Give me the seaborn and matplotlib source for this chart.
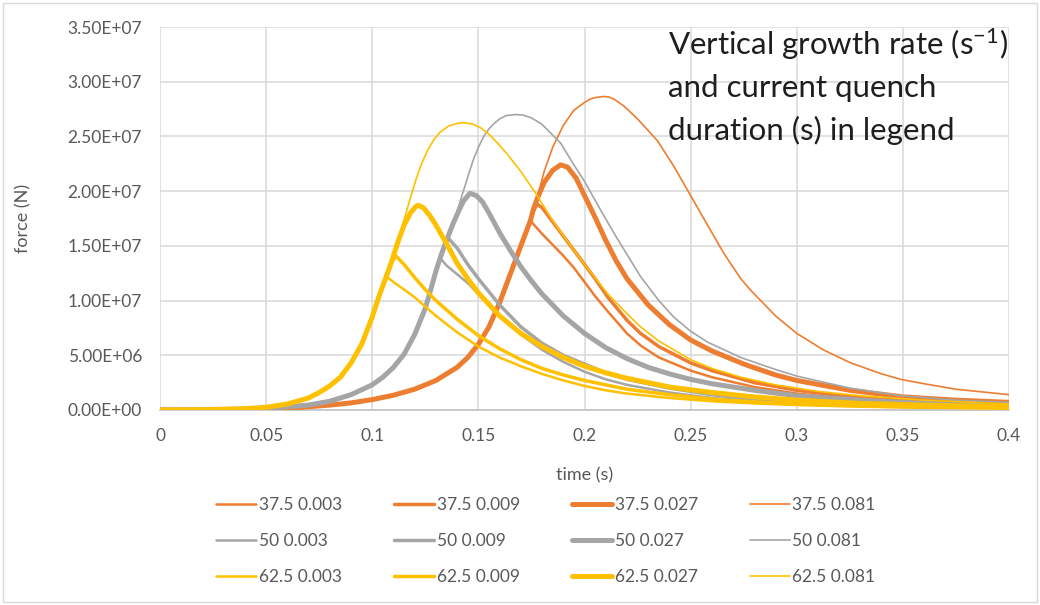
import numpy as np
import pandas as pd
import matplotlib
matplotlib.use("Agg")
import matplotlib.pyplot as plt
import seaborn as sns
from matplotlib.ticker import FuncFormatter
from matplotlib.patches import Rectangle
from matplotlib.lines import Line2D

# ---------------- data (time in s, force in MN) ----------------
growth_rates = ["37.5", "50", "62.5"]
durations = ["0.003", "0.009", "0.027", "0.081"]

# common rising part per growth rate
rise_375_t = [0, 0.03, 0.05, 0.06, 0.07, 0.08, 0.09, 0.1, 0.11, 0.12, 0.13, 0.14, 0.145, 0.15, 0.155, 0.16, 0.165, 0.17, 0.1745]
rise_375_f = [0, 0.01, 0.05, 0.15, 0.3, 0.45, 0.65, 0.95, 1.35, 1.9, 2.7, 3.9, 4.8, 6.0, 7.6, 9.8, 12.4, 15.0, 17.3]

rise_50_t = [0, 0.02, 0.04, 0.05, 0.06, 0.07, 0.08, 0.09, 0.1, 0.105, 0.11, 0.115, 0.12, 0.125, 0.128, 0.13, 0.132]
rise_50_f = [0, 0.01, 0.08, 0.18, 0.3, 0.45, 0.8, 1.4, 2.3, 3.0, 3.9, 5.1, 6.9, 9.3, 11.3, 12.7, 13.9]

rise_625_t = [0, 0.02, 0.04, 0.05, 0.06, 0.07, 0.075, 0.08, 0.085, 0.09, 0.095, 0.1, 0.103, 0.1066]
rise_625_f = [0, 0.03, 0.12, 0.25, 0.55, 1.1, 1.6, 2.2, 3.0, 4.3, 6.0, 8.5, 10.3, 12.2]

# tails after the common rise
tail_375_003_t = [0.18, 0.185, 0.19, 0.195, 0.2, 0.205, 0.211, 0.22, 0.2264, 0.235, 0.25, 0.26, 0.28, 0.3, 0.325, 0.35, 0.375, 0.4]
tail_375_003_f = [16.1, 15.1, 14.1, 13.0, 11.7, 10.4, 9.0, 7.0, 5.9, 4.8, 3.6, 3.0, 2.1, 1.5, 1.0, 0.7, 0.5, 0.4]
tail_375_009_t = [0.176, 0.1777, 0.18, 0.185, 0.19, 0.195, 0.2, 0.205, 0.211, 0.22, 0.2264, 0.235, 0.25, 0.26, 0.28, 0.3, 0.325, 0.35, 0.375, 0.4]
tail_375_009_f = [18.2, 18.8, 18.5, 17.2, 15.9, 14.6, 13.3, 12.0, 10.3, 8.2, 7.0, 5.8, 4.3, 3.6, 2.5, 1.8, 1.2, 0.85, 0.6, 0.45]
tail_375_027_t = [0.176, 0.1777, 0.181, 0.185, 0.1887, 0.192, 0.196, 0.2, 0.205, 0.21, 0.215, 0.22, 0.23, 0.24, 0.25, 0.26, 0.275, 0.29, 0.3, 0.325, 0.35, 0.375, 0.4]
tail_375_027_f = [18.4, 19.3, 20.8, 21.9, 22.4, 22.2, 21.2, 19.6, 17.6, 15.5, 13.6, 12.0, 9.6, 7.8, 6.4, 5.4, 4.2, 3.2, 2.7, 1.8, 1.2, 0.9, 0.7]
tail_375_081_t = [0.176, 0.1777, 0.181, 0.185, 0.19, 0.195, 0.2, 0.2025, 0.205, 0.209, 0.2115, 0.214, 0.2184, 0.225, 0.2344, 0.242, 0.25, 0.2547, 0.2657, 0.2736, 0.278, 0.29, 0.3, 0.3125, 0.3255, 0.34, 0.349, 0.36, 0.375, 0.39, 0.4]
tail_375_081_f = [18.4, 19.4, 21.8, 24.0, 26.0, 27.4, 28.1, 28.4, 28.55, 28.65, 28.6, 28.4, 27.8, 26.6, 24.6, 22.3, 19.6, 18.0, 14.3, 12.0, 11.0, 8.6, 7.0, 5.5, 4.3, 3.3, 2.8, 2.4, 1.9, 1.6, 1.4]

tail_50_003_t = [0.135, 0.14, 0.145, 0.15, 0.155, 0.16, 0.17, 0.18, 0.19, 0.2, 0.21, 0.22, 0.24, 0.26, 0.28, 0.3, 0.33, 0.36, 0.4]
tail_50_003_f = [13.2, 12.4, 11.6, 10.6, 9.6, 8.6, 6.9, 5.5, 4.4, 3.5, 2.8, 2.3, 1.6, 1.1, 0.8, 0.6, 0.4, 0.3, 0.2]
tail_50_009_t = [0.134, 0.1358, 0.14, 0.145, 0.15, 0.155, 0.16, 0.17, 0.18, 0.19, 0.2, 0.21, 0.22, 0.24, 0.26, 0.28, 0.3, 0.33, 0.36, 0.4]
tail_50_009_f = [15.0, 15.7, 14.8, 13.3, 12.0, 10.8, 9.6, 7.6, 6.1, 5.0, 4.2, 3.4, 2.8, 2.0, 1.4, 1.0, 0.75, 0.5, 0.35, 0.25]
tail_50_027_t = [0.134, 0.1358, 0.138, 0.141, 0.143, 0.146, 0.149, 0.152, 0.155, 0.16, 0.165, 0.17, 0.175, 0.18, 0.19, 0.2, 0.21, 0.22, 0.23, 0.24, 0.25, 0.26, 0.28, 0.3, 0.33, 0.36, 0.4]
tail_50_027_f = [15.0, 15.9, 17.0, 18.3, 19.1, 19.8, 19.6, 19.0, 18.0, 16.2, 14.6, 13.1, 11.8, 10.6, 8.6, 7.0, 5.7, 4.7, 3.9, 3.3, 2.8, 2.4, 1.8, 1.3, 0.9, 0.6, 0.4]
tail_50_081_t = [0.134, 0.1358, 0.138, 0.141, 0.145, 0.1475, 0.15, 0.1525, 0.155, 0.1575, 0.16, 0.163, 0.1675, 0.171, 0.175, 0.18, 0.1887, 0.195, 0.2, 0.2075, 0.215, 0.2264, 0.235, 0.242, 0.25, 0.258, 0.2736, 0.29, 0.3, 0.325, 0.349, 0.375, 0.4]
tail_50_081_f = [15.0, 15.9, 17.0, 18.8, 21.3, 22.8, 24.0, 25.0, 25.7, 26.2, 26.6, 26.9, 27.0, 26.95, 26.7, 26.1, 24.4, 22.4, 20.9, 18.3, 15.8, 12.2, 10.0, 8.5, 7.2, 6.2, 4.8, 3.7, 3.1, 2.0, 1.3, 0.9, 0.7]

tail_625_003_t = [0.11, 0.115, 0.12, 0.13, 0.14, 0.15, 0.16, 0.17, 0.18, 0.19, 0.2, 0.21, 0.22, 0.24, 0.26, 0.28, 0.3, 0.33, 0.36, 0.4]
tail_625_003_f = [11.7, 11.0, 10.3, 8.6, 7.1, 5.8, 4.8, 4.0, 3.3, 2.7, 2.2, 1.8, 1.5, 1.1, 0.8, 0.6, 0.45, 0.3, 0.2, 0.15]
tail_625_009_t = [0.109, 0.111, 0.115, 0.12, 0.125, 0.13, 0.14, 0.15, 0.16, 0.17, 0.18, 0.19, 0.2, 0.21, 0.22, 0.24, 0.26, 0.28, 0.3, 0.33, 0.36, 0.4]
tail_625_009_f = [13.4, 14.1, 13.3, 12.1, 11.0, 10.0, 8.3, 6.8, 5.6, 4.6, 3.8, 3.2, 2.7, 2.3, 1.9, 1.4, 1.0, 0.75, 0.55, 0.38, 0.27, 0.18]
tail_625_027_t = [0.109, 0.112, 0.115, 0.118, 0.1205, 0.1217, 0.124, 0.127, 0.13, 0.135, 0.14, 0.145, 0.15, 0.16, 0.17, 0.18, 0.19, 0.2, 0.21, 0.22, 0.24, 0.26, 0.28, 0.3, 0.33, 0.36, 0.4]
tail_625_027_f = [13.5, 15.3, 16.9, 18.0, 18.6, 18.7, 18.5, 17.8, 16.9, 15.2, 13.4, 12.0, 10.7, 8.6, 7.0, 5.8, 4.8, 4.0, 3.4, 2.9, 2.1, 1.6, 1.2, 0.9, 0.6, 0.45, 0.3]
tail_625_081_t = [0.109, 0.112, 0.115, 0.118, 0.1205, 0.123, 0.126, 0.129, 0.132, 0.136, 0.14, 0.143, 0.147, 0.151, 0.155, 0.159, 0.1635, 0.17, 0.1777, 0.185, 0.195, 0.2, 0.211, 0.22, 0.2264, 0.235, 0.25, 0.26, 0.2736, 0.29, 0.31, 0.33, 0.36, 0.4]
tail_625_081_f = [13.5, 15.4, 17.4, 19.4, 21.0, 22.4, 23.7, 24.7, 25.4, 25.95, 26.2, 26.25, 26.15, 25.8, 25.2, 24.4, 23.4, 21.8, 19.6, 17.3, 14.6, 13.3, 10.6, 8.8, 7.6, 6.3, 4.6, 3.8, 3.0, 2.3, 1.7, 1.3, 0.9, 0.55]

y_ticks = [0, 5e6, 1e7, 1.5e7, 2e7, 2.5e7, 3e7, 3.5e7]
x_ticks = [0, 0.05, 0.1, 0.15, 0.2, 0.25, 0.3, 0.35, 0.4]

# ---------------- styles ----------------
colors = {"37.5": "#ED7D31", "50": "#A5A5A5", "62.5": "#FFC000"}
widths = {"0.003": 1.8, "0.009": 2.5, "0.027": 3.6, "0.081": 1.2}

rises = {"37.5": (rise_375_t, rise_375_f), "50": (rise_50_t, rise_50_f), "62.5": (rise_625_t, rise_625_f)}
tails = {
    ("37.5", "0.003"): (tail_375_003_t, tail_375_003_f),
    ("37.5", "0.009"): (tail_375_009_t, tail_375_009_f),
    ("37.5", "0.027"): (tail_375_027_t, tail_375_027_f),
    ("37.5", "0.081"): (tail_375_081_t, tail_375_081_f),
    ("50", "0.003"): (tail_50_003_t, tail_50_003_f),
    ("50", "0.009"): (tail_50_009_t, tail_50_009_f),
    ("50", "0.027"): (tail_50_027_t, tail_50_027_f),
    ("50", "0.081"): (tail_50_081_t, tail_50_081_f),
    ("62.5", "0.003"): (tail_625_003_t, tail_625_003_f),
    ("62.5", "0.009"): (tail_625_009_t, tail_625_009_f),
    ("62.5", "0.027"): (tail_625_027_t, tail_625_027_f),
    ("62.5", "0.081"): (tail_625_081_t, tail_625_081_f),
}

sns.set_theme(style="white")
plt.rcParams["font.family"] = ["Lato", "DejaVu Sans"]
plt.rcParams["mathtext.fontset"] = "custom"
plt.rcParams["mathtext.rm"] = "Lato"
plt.rcParams["mathtext.it"] = "Lato:italic"

W, H = 1040, 605
fig = plt.figure(figsize=(W / 100, H / 100), dpi=100)
ax = fig.add_axes([160 / W, 1 - 410 / H, (1009 - 160) / W, (410 - 27) / H])

tick_color = "#595959"
for g in growth_rates:
    for d in durations:
        rt, rf = rises[g]
        tt, tf = tails[(g, d)]
        df = pd.DataFrame({"time": list(rt) + list(tt),
                           "force": (np.array(list(rf) + list(tf)) * 1e6)})
        sns.lineplot(data=df, x="time", y="force", ax=ax, color=colors[g],
                     linewidth=widths[d], sort=False, estimator=None,
                     label=f"{g} {d}", zorder=3)

if ax.get_legend() is not None:
    ax.get_legend().remove()
for ln in ax.get_lines():
    ln.set_solid_joinstyle("round")
    ln.set_solid_capstyle("round")

ax.set_xlim(0, 0.4)
ax.set_ylim(0, 3.5e7)
ax.set_xticks(x_ticks)
ax.set_yticks(y_ticks)
ax.xaxis.set_major_formatter(FuncFormatter(lambda v, p: f"{v:g}"))
ax.yaxis.set_major_formatter(FuncFormatter(lambda v, p: f"{v:.2E}"))
ax.grid(True, color="#D9D9D9", linewidth=1.1, zorder=0)
ax.set_axisbelow(True)
for s in ["left", "right", "top"]:
    ax.spines[s].set_visible(False)
ax.spines["bottom"].set_color("#BFBFBF")
ax.spines["bottom"].set_linewidth(1.1)
ax.tick_params(axis="both", length=0, labelsize=12.5, colors=tick_color, pad=13)

ax.set_xlabel("time (s)", fontsize=13, color=tick_color)
ax.set_ylabel("force (N)", fontsize=13, color=tick_color)
ax.xaxis.set_label_coords(0.5, -0.149)
ax.yaxis.set_label_coords(-0.151, 0.5)

# annotation
ann_color = "#1E1E1E"
fs_ann = 22.5
fig.text(668 / W, 1 - 55 / H, r"Vertical growth rate (s$^{\mathrm{-1}}$)", fontsize=fs_ann,
         color=ann_color, va="baseline", ha="left")
fig.text(668 / W, 1 - 97 / H, "and current quench", fontsize=fs_ann,
         color=ann_color, va="baseline", ha="left")
fig.text(668 / W, 1 - 140 / H, "duration (s) in legend", fontsize=fs_ann,
         color=ann_color, va="baseline", ha="left")

# legend: rows = growth rate, columns = duration
handles, labels = [], []
for d in durations:
    for g in growth_rates:
        handles.append(Line2D([], [], color=colors[g], linewidth=widths[d]))
        labels.append(f"{g} {d}")
leg = fig.legend(handles, labels, ncol=4, loc="center", bbox_to_anchor=(546 / W, 1 - 541 / H),
                 frameon=False, fontsize=12.5, handlelength=2.3, handletextpad=0.15,
                 columnspacing=3.0, labelspacing=1.15)
for t in leg.get_texts():
    t.set_color(tick_color)

fig.add_artist(Rectangle((3 / W, 3 / H), 1 - 6 / W, 1 - 6 / H, transform=fig.transFigure,
                         fill=False, edgecolor="#D9D9D9", linewidth=1.0))

fig.savefig("out.png", dpi=100)
